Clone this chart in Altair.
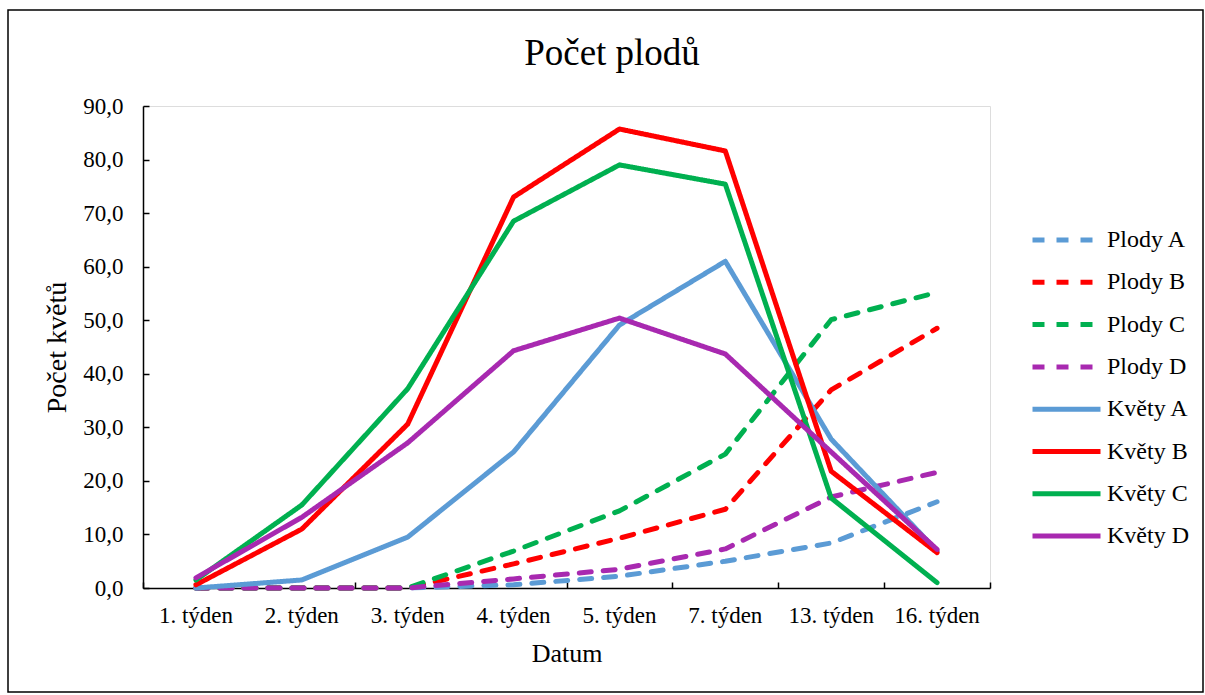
import altair as alt
import pandas as pd

weeks = ["1. týden", "2. týden", "3. týden", "4. týden", "5. týden", "7. týden", "13. týden", "16. týden"]

plody_a = [0.0, 0.0, 0.0, 0.6, 2.2, 5.0, 8.4, 16.1]
plody_b = [0.0, 0.0, 0.0, 4.5, 9.3, 14.7, 37.0, 48.5]
plody_c = [0.0, 0.0, 0.0, 6.9, 14.4, 25.0, 50.1, 55.2]
plody_d = [0.0, 0.0, 0.0, 1.7, 3.5, 7.3, 17.0, 21.6]
kvety_a = [0.0, 1.5, 9.5, 25.4, 49.1, 61.0, 27.8, 6.9]
kvety_b = [0.6, 11.0, 30.6, 73.0, 85.7, 81.6, 21.8, 6.6]
kvety_c = [1.5, 15.5, 37.2, 68.5, 79.0, 75.4, 16.8, 1.0]
kvety_d = [1.9, 13.2, 27.1, 44.3, 50.4, 43.7, 25.4, 7.2]

series_names = ["Plody A", "Plody B", "Plody C", "Plody D",
                "Květy A", "Květy B", "Květy C", "Květy D"]
series_values = [plody_a, plody_b, plody_c, plody_d, kvety_a, kvety_b, kvety_c, kvety_d]
series_colors = ["#5B9BD5", "#FF0000", "#00B050", "#A829B0",
                 "#5B9BD5", "#FF0000", "#00B050", "#A829B0"]
series_dash = [[12, 12]] * 4 + [[1, 0]] * 4

y_ticks = [0, 10, 20, 30, 40, 50, 60, 70, 80, 90]
chart_title = "Počet plodů"

rows = []
for order, (name, vals) in enumerate(zip(series_names, series_values)):
    for w, v in zip(weeks, vals):
        rows.append({"series": name, "week": w, "value": v, "order": order})
df = pd.DataFrame(rows)

FONT = "Liberation Serif"
W, H = 847, 482

x_scale = alt.Scale(type="band", domain=weeks, paddingInner=0, paddingOuter=0)
y_scale = alt.Scale(domain=[0, 90], nice=False)

legend = alt.Legend(
    orient="none", legendX=887, legendY=119, title=None,
    symbolType="stroke", symbolSize=4624, symbolStrokeWidth=5,
    labelFont=FONT, labelFontSize=24, labelColor="black", labelOffset=4,
    clipHeight=30, rowPadding=12.3,
)

lines = alt.Chart(df).mark_line(strokeWidth=5, strokeCap="round", strokeJoin="round").encode(
    x=alt.X("week:N", sort=weeks, scale=x_scale, bandPosition=0.5,
            axis=alt.Axis(orient="bottom", title="Datum", ticks=False, labelAngle=0,
                          labelFont=FONT, labelFontSize=23, labelColor="black", labelPadding=16,
                          titleFont=FONT, titleFontSize=26, titleFontWeight="normal",
                          titleColor="black", titlePadding=13,
                          domainColor="#000000", domainWidth=1.5)),
    y=alt.Y("value:Q", scale=y_scale,
            axis=alt.Axis(orient="left", title="Počet květů", ticks=False, values=y_ticks,
                          labelExpr="replace(format(datum.value, '.1f'), '.', ',')",
                          labelFont=FONT, labelFontSize=23, labelColor="black", labelPadding=20,
                          titleFont=FONT, titleFontSize=28, titleFontWeight="normal",
                          titleColor="black", titlePadding=11,
                          domainColor="#000000", domainWidth=1.5, grid=False)),
    color=alt.Color("series:N", sort=series_names,
                    scale=alt.Scale(domain=series_names, range=series_colors), legend=legend),
    strokeDash=alt.StrokeDash("series:N", sort=series_names,
                              scale=alt.Scale(domain=series_names, range=series_dash), legend=legend),
    order=alt.Order("order:Q"),
)

ticks_layer = alt.Chart(df).mark_point(opacity=0).encode(
    x=alt.X("week:N", sort=weeks, scale=x_scale,
            axis=alt.Axis(orient="top", offset=-H, labels=False, title=None, domain=False,
                          ticks=True, tickBand="extent", tickSize=6, tickColor="black",
                          tickWidth=1.5)),
    y=alt.Y("value:Q", scale=y_scale,
            axis=alt.Axis(orient="right", offset=-W, labels=False, title=None, domain=False,
                          ticks=True, values=y_ticks, tickSize=6, tickColor="black",
                          tickWidth=1.5, grid=False)),
)

border = alt.Chart(pd.DataFrame({"a": [0]})).mark_rect(
    fill=None, stroke="black", strokeWidth=1.5
).encode(
    x=alt.value(-135), x2=alt.value(1060), y=alt.value(-96), y2=alt.value(586)
)

title_text = alt.Chart(pd.DataFrame({"t": [chart_title]})).mark_text(
    font=FONT, fontSize=37, color="black", align="center", baseline="alphabetic"
).encode(
    text="t:N", x=alt.value(469), y=alt.value(-41)
)

chart = alt.layer(border, title_text, lines, ticks_layer).resolve_axis(
    x="independent", y="independent"
).properties(
    width=W, height=H,
    padding={"left": 143, "top": 106, "right": 215, "bottom": 107},
    autosize=alt.AutoSizeParams(type="none"),
).configure_view(stroke=None).configure(background="white")

chart.save("out.html", embed_options={"renderer": "svg", "actions": False})
